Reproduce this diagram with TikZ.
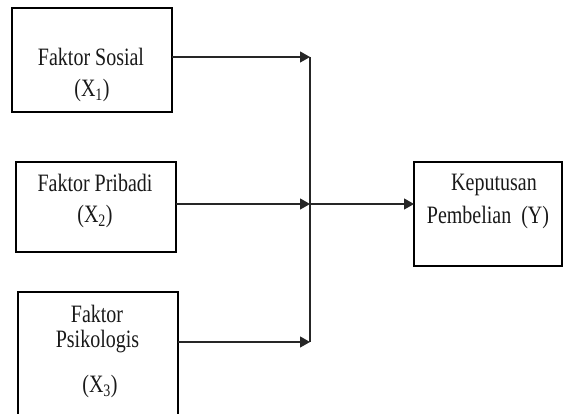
\documentclass[tikz,border=0pt]{standalone}
\usepackage{fontspec}
\setmainfont{Liberation Serif}[FakeStretch=0.80]
\usetikzlibrary{arrows.meta}
\begin{document}
\begin{tikzpicture}[x=1pt,y=-1pt,
  boxstyle/.style={draw=black, line width=1.2pt},
  txt/.style={anchor=base, inner sep=0pt, font=\fontsize{25}{29}\selectfont, text=black!90},
  conn/.style={line width=1.3pt, draw=black!85},
  arr/.style={conn, -{Triangle[length=10pt,width=11pt]}}]
\useasboundingbox (0,0) rectangle (563,414);
\clip (0,0) rectangle (563,414);
% boxes
\draw[boxstyle] (12,8) rectangle (172,112);
\coordinate (b1e) at (172,57);
\draw[boxstyle] (16,162) rectangle (176,252);
\coordinate (b2e) at (176,204);
\draw[boxstyle] (18,292) rectangle (178,420);
\coordinate (b3e) at (178,342);
\draw[boxstyle] (414,162) rectangle (562,266);
\coordinate (yw) at (414,204);
% texts
\node[txt] (t1a) at (91,66) {Faktor Sosial};
\node[txt] (t1b) at (92,97) {(X\textsubscript{1})};
\node[txt] (t2a) at (95,192) {Faktor Pribadi};
\node[txt] (t2b) at (95,223) {(X\textsubscript{2})};
\node[txt] (t3a) at (97,323) {Faktor};
\node[txt] (t3b) at (97.5,348) {Psikologis};
\node[txt] (t3c) at (100,393) {(X\textsubscript{3})};
\node[txt] (tya) at (494,191) {Keputusan};
\node[txt] (tyb) at (488,224) {Pembelian\hspace{0.2em} (Y)};
% junction line
\coordinate (jt) at (310,57);
\coordinate (jm) at (310,204);
\coordinate (jb) at (310,342);
\draw[conn] (jt) -- (jb);
\draw[arr] (b1e) -- (jt);
\draw[arr] (b2e) -- (jm);
\draw[arr] (b3e) -- (jb);
\draw[arr] (jm) -- (yw);
\end{tikzpicture}
\end{document}
